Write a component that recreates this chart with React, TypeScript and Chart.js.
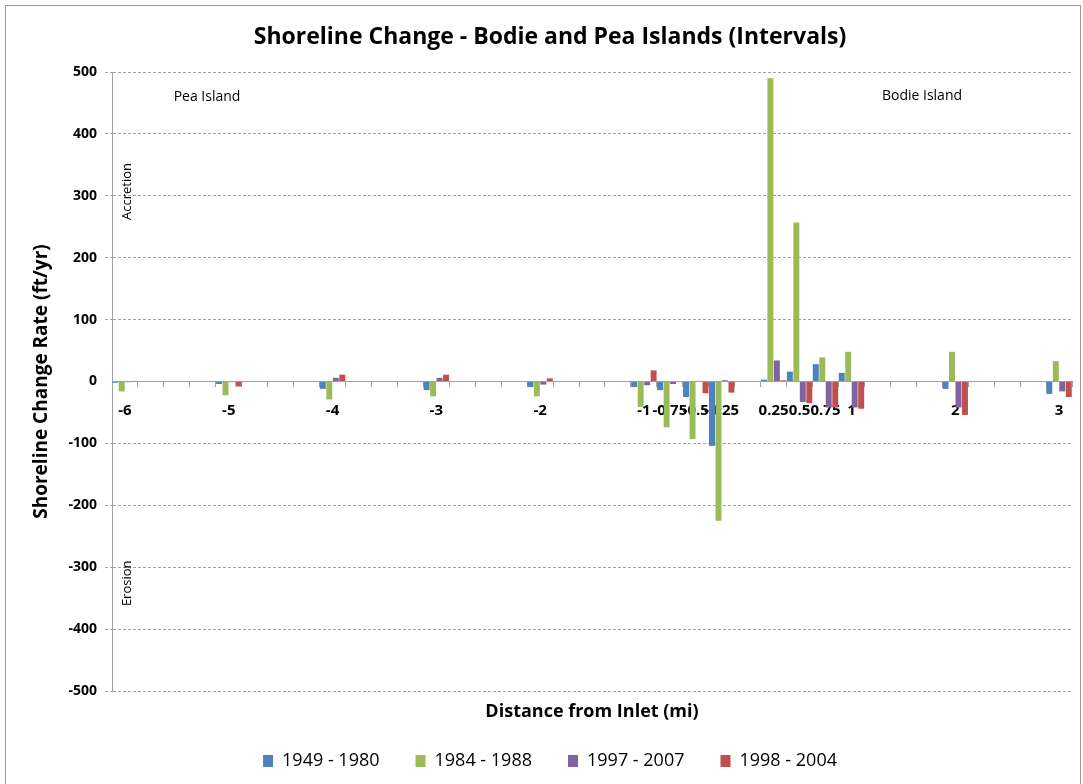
import React, { useEffect, useRef } from "react";
import { Chart, registerables } from "chart.js";

Chart.register(...registerables);

const FONT = "'Open Sans', 'DejaVu Sans', sans-serif";

// Distance from inlet (mi), one category every 0.25 mi
const categories = [
  "-6", "-5.75", "-5.5", "-5.25", "-5", "-4.75", "-4.5", "-4.25", "-4", "-3.75",
  "-3.5", "-3.25", "-3", "-2.75", "-2.5", "-2.25", "-2", "-1.75", "-1.5", "-1.25",
  "-1", "-0.75", "-0.5", "-0.25", "0", "0.25", "0.5", "0.75", "1", "1.25",
  "1.5", "1.75", "2", "2.25", "2.5", "2.75", "3",
];

// Stations with measurements (these are the labelled ticks)
const stations = [
  "-6", "-5", "-4", "-3", "-2", "-1", "-0.75", "-0.5", "-0.25",
  "0.25", "0.5", "0.75", "1", "2", "3",
];

const s1949_1980 = [-2, -4, -12, -14, -9, -9, -14, -25, -104, 3, 16, 28, 14, -12, -20];
const s1984_1988 = [-16, -22, -29, -24, -24, -41, -74, -93, -225, 490, 257, 39, 48, 48, 33];
const s1997_2007 = [-1, -1, 6, 6, -5, -6, -4, 1, 2, 34, -33, -42, -42, -42, -16];
const s1998_2004 = [1, -8, 11, 11, 5, 18, -1, -19, -18, 2, -35, -42, -44, -54, -25];

const seriesNames = ["1949 - 1980", "1984 - 1988", "1997 - 2007", "1998 - 2004"];
const seriesColors = ["#4F81BD", "#9BBB59", "#8064A2", "#C0504D"];
const seriesValues = [s1949_1980, s1984_1988, s1997_2007, s1998_2004];

const yTicks = { min: -500, max: 500, step: 100 };

const chartTitle = "Shoreline Change - Bodie and Pea Islands (Intervals)";
const xTitle = "Distance from Inlet (mi)";
const yTitle = "Shoreline Change Rate (ft/yr)";

function toCategoryData(values: number[]) {
  return categories.map((c) => {
    const i = stations.indexOf(c);
    return i >= 0 ? values[i] : null;
  });
}

const annotationPlugin = {
  id: "islandAnnotations",
  afterDraw(chart: any) {
    const { ctx, chartArea, scales } = chart;
    const y = scales.y;
    ctx.save();
    ctx.fillStyle = "#000";
    ctx.textAlign = "center";
    ctx.textBaseline = "middle";
    ctx.font = `14px ${FONT}`;
    ctx.fillText("Pea Island", chartArea.left + 95, y.getPixelForValue(459));
    ctx.fillText("Bodie Island", chartArea.left + 810, y.getPixelForValue(462));
    ctx.font = `13px ${FONT}`;
    ctx.save();
    ctx.translate(chartArea.left + 15, y.getPixelForValue(307));
    ctx.rotate(-Math.PI / 2);
    ctx.fillText("Accretion", 0, 0);
    ctx.restore();
    ctx.save();
    ctx.translate(chartArea.left + 15, y.getPixelForValue(-326));
    ctx.rotate(-Math.PI / 2);
    ctx.fillText("Erosion", 0, 0);
    ctx.restore();
    ctx.restore();
  },
};

export default function App() {
  const canvasRef = useRef<HTMLCanvasElement | null>(null);

  useEffect(() => {
    if (!canvasRef.current) return;
    const grey = "#a0a0a0";
    const chart = new Chart(canvasRef.current, {
      type: "bar",
      data: {
        labels: categories,
        datasets: seriesNames.map((name, i) => ({
          label: name,
          data: toCategoryData(seriesValues[i]),
          backgroundColor: seriesColors[i],
          borderWidth: 0,
          categoryPercentage: 1,
          barPercentage: 0.92,
        })),
      },
      options: {
        animation: false,
        responsive: false,
        maintainAspectRatio: false,
        layout: { padding: { left: 28, right: 11, top: 0, bottom: 4 } },
        scales: {
          x: {
            type: "category",
            position: { y: 0 } as any,
            offset: true,
            grid: {
              display: true,
              drawOnChartArea: false,
              drawTicks: true,
              tickLength: 5,
              color: grey,
              offset: true,
            },
            border: { display: true, color: grey, width: 1 },
            ticks: {
              autoSkip: false,
              maxRotation: 0,
              minRotation: 0,
              padding: 15,
              color: "#000",
              font: { family: FONT, size: 15, weight: "bold" },
              callback: (_v: any, index: number) =>
                stations.includes(categories[index]) ? categories[index] : "",
            },
            afterFit: (s: any) => {
              s.height = 0;
            },
          },
          y: {
            min: yTicks.min,
            max: yTicks.max,
            ticks: {
              stepSize: yTicks.step,
              padding: 8,
              color: "#000",
              font: { family: FONT, size: 14, weight: "bold" },
            },
            grid: {
              color: (ctx: any) => (ctx.tick && ctx.tick.value === 0 ? "rgba(0,0,0,0)" : grey),
              tickLength: 7,
              tickBorderDash: [3, 2],
            },
            border: { display: true, color: grey, width: 1, dash: [3, 2] },
            title: {
              display: true,
              text: yTitle,
              color: "#000",
              font: { family: FONT, size: 19, weight: "bold" },
              padding: { top: 2.6, bottom: 0 },
            },
            afterFit: (s: any) => {
              s.width = 84;
            },
          },
        },
        plugins: {
          title: {
            display: true,
            text: chartTitle,
            color: "#000",
            font: { family: FONT, size: 23, weight: "bold" },
            padding: { top: 23.2, bottom: 21.2 },
          },
          subtitle: {
            display: true,
            text: xTitle,
            position: "bottom",
            fullSize: false,
            weight: 500,
            color: "#000",
            font: { family: FONT, size: 18, weight: "bold" },
            padding: { top: 10.2, bottom: -6.8 },
          },
          legend: {
            display: true,
            position: "bottom",
            weight: 1000,
            labels: {
              boxWidth: 10,
              boxHeight: 12,
              padding: 36,
              color: "#000",
              font: { family: FONT, size: 18 },
            },
          },
          tooltip: { enabled: false },
        },
      },
      plugins: [annotationPlugin],
    } as any);
    return () => chart.destroy();
  }, []);

  return (
    <div
      style={{
        position: "absolute",
        left: 0,
        top: 0,
        width: 1083,
        height: 784,
        overflow: "hidden",
        background: "#fff",
      }}
    >
      <canvas
        ref={canvasRef}
        width={1083}
        height={784}
        style={{ position: "absolute", left: 0, top: 0, width: 1083, height: 784 }}
      />
      <div
        style={{
          position: "absolute",
          left: 5,
          top: 5,
          width: 1074,
          height: 800,
          border: "1px solid #9a9a9a",
          pointerEvents: "none",
        }}
      />
    </div>
  );
}
